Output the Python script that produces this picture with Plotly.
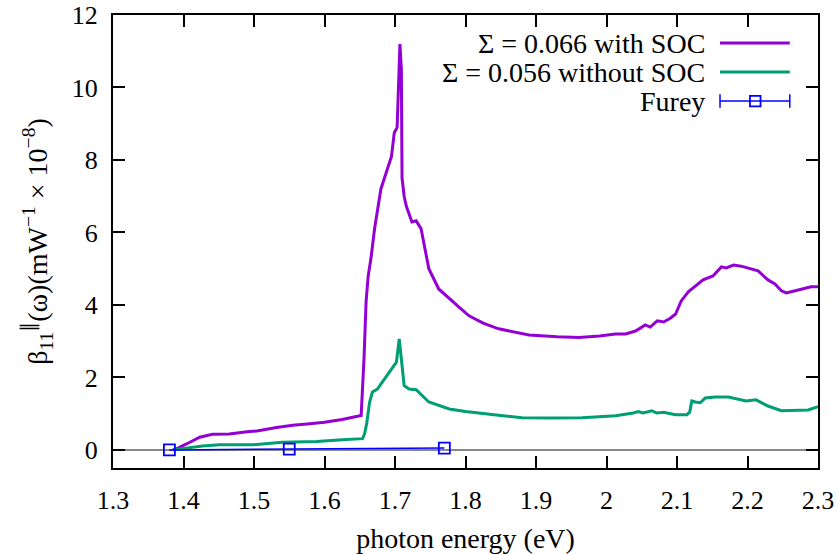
import plotly.graph_objects as go

# ---- data ----
soc_x = [1.385, 1.39, 1.405, 1.423, 1.441, 1.465, 1.49, 1.504, 1.532, 1.555, 1.579, 1.60, 1.625, 1.647,
         1.652, 1.656, 1.659, 1.662, 1.666, 1.671, 1.680, 1.695, 1.699, 1.703, 1.705, 1.707, 1.709,
         1.710, 1.713, 1.716, 1.724, 1.730, 1.737, 1.748, 1.762, 1.777, 1.790, 1.805, 1.825, 1.847,
         1.870, 1.890, 1.93, 1.961, 1.99, 2.013, 2.027, 2.041, 2.048, 2.055, 2.062, 2.072, 2.081,
         2.091, 2.098, 2.106, 2.116, 2.126, 2.137, 2.151, 2.163, 2.170, 2.180, 2.191, 2.215, 2.229,
         2.239, 2.248, 2.255, 2.272, 2.290, 2.30]
soc_y = [0.0, 0.03, 0.17, 0.35, 0.43, 0.44, 0.50, 0.52, 0.62, 0.68, 0.72, 0.76, 0.84, 0.93,
         0.95, 2.5, 4.1, 4.8, 5.3, 6.1, 7.2, 8.1, 8.75, 8.9, 10.0, 11.2, 10.5,
         7.5, 7.0, 6.73, 6.29, 6.32, 6.1, 5.0, 4.44, 4.17, 3.95, 3.70, 3.50, 3.34,
         3.24, 3.17, 3.12, 3.10, 3.14, 3.2, 3.2, 3.28, 3.36, 3.45, 3.39, 3.56, 3.53,
         3.64, 3.75, 4.11, 4.36, 4.53, 4.69, 4.80, 5.05, 5.02, 5.10, 5.07, 4.94, 4.69,
         4.58, 4.39, 4.33, 4.41, 4.50, 4.50]

nosoc_x = [1.385, 1.40, 1.427, 1.451, 1.498, 1.54, 1.589, 1.625, 1.654, 1.657, 1.660, 1.664, 1.668,
           1.675, 1.682, 1.696, 1.702, 1.706, 1.709, 1.713, 1.720, 1.730, 1.748, 1.762, 1.777, 1.80,
           1.823, 1.85, 1.88, 1.92, 1.965, 2.013, 2.038, 2.045, 2.052, 2.064, 2.071, 2.081, 2.098,
           2.114, 2.118, 2.121, 2.126, 2.133, 2.140, 2.154, 2.173, 2.198, 2.212, 2.229, 2.248, 2.272,
           2.286, 2.30]
nosoc_y = [0.0, 0.04, 0.11, 0.14, 0.14, 0.21, 0.23, 0.28, 0.31, 0.45, 0.75, 1.32, 1.60,
           1.68, 1.87, 2.23, 2.42, 3.06, 2.42, 1.77, 1.68, 1.66, 1.32, 1.22, 1.13, 1.06,
           1.00, 0.95, 0.89, 0.88, 0.89, 0.94, 1.02, 1.06, 1.02, 1.08, 1.02, 1.04, 0.97,
           0.97, 1.04, 1.35, 1.32, 1.30, 1.43, 1.46, 1.46, 1.35, 1.38, 1.21, 1.08, 1.10,
           1.10, 1.19]

furey_x = [1.38, 1.55, 1.77]
furey_y = [0.0, 0.02, 0.05]

x_ticks = [1.3, 1.4, 1.5, 1.6, 1.7, 1.8, 1.9, 2.0, 2.1, 2.2, 2.3]
x_tick_labels = ["1.3", "1.4", "1.5", "1.6", "1.7", "1.8", "1.9", "2", "2.1", "2.2", "2.3"]
y_ticks = [0, 2, 4, 6, 8, 10, 12]

legend_labels = ["Σ = 0.066 with SOC", "Σ = 0.056 without SOC", "Furey"]

PURPLE = "#9400d3"
GREEN = "#009e73"
BLUE = "#0000ff"
FONT = "Liberation Serif"
FS_TICK = 26
FS_TEXT = 28

fig = go.Figure()
fig.add_trace(go.Scatter(x=soc_x, y=soc_y, mode="lines", line=dict(color=PURPLE, width=3),
                         showlegend=False))
fig.add_trace(go.Scatter(x=nosoc_x, y=nosoc_y, mode="lines", line=dict(color=GREEN, width=3),
                         showlegend=False))
fig.add_trace(go.Scatter(x=furey_x, y=furey_y, mode="lines+markers",
                         line=dict(color=BLUE, width=1.5),
                         marker=dict(symbol="square-open", size=11, color=BLUE, line=dict(width=1.8)),
                         showlegend=False))

# custom gnuplot-style legend (text right, sample left)
rows = [0.938, 0.874, 0.810]
colors = [PURPLE, GREEN, BLUE]
x0, x1, xm, xt = 0.861, 0.960, 0.911, 0.842
shapes = []
annotations = []
for i, (lab, c, yr) in enumerate(zip(legend_labels, colors, rows)):
    annotations.append(dict(xref="paper", yref="paper", x=xt, y=yr, text=lab, showarrow=False,
                            xanchor="right", yanchor="middle",
                            font=dict(family=FONT, size=FS_TEXT, color="black")))
    shapes.append(dict(type="line", xref="paper", yref="paper", x0=x0, x1=x1, y0=yr, y1=yr,
                       line=dict(color=c, width=3 if i < 2 else 1.5)))
# Furey legend: caps and square
for xc in (x0, x1):
    shapes.append(dict(type="line", xref="paper", yref="paper", x0=xc, x1=xc,
                       y0=rows[2] - 0.015, y1=rows[2] + 0.015, line=dict(color=BLUE, width=1.5)))
shapes.append(dict(type="rect", xref="paper", yref="paper", x0=xm - 0.0075, x1=xm + 0.0075,
                   y0=rows[2] - 0.0115, y1=rows[2] + 0.0115, line=dict(color=BLUE, width=1.8),
                   fillcolor="rgba(0,0,0,0)"))

fig.update_layout(
    width=837, height=554,
    margin=dict(l=113, r=19, t=15, b=86, autoexpand=False),
    plot_bgcolor="white", paper_bgcolor="white",
    font=dict(family=FONT, size=FS_TICK, color="black"),
    shapes=shapes, annotations=annotations,
)
fig.update_xaxes(range=[1.3, 2.3], tickvals=x_ticks, ticktext=x_tick_labels,
                 tickfont=dict(family=FONT, size=FS_TICK),
                 ticks="inside", ticklen=12, tickwidth=1.5, tickcolor="black",
                 showline=True, linecolor="black", linewidth=2, mirror="ticks",
                 showgrid=False, zeroline=False, ticklabelstandoff=8, automargin=False,
                 title=dict(text="photon energy (eV)", standoff=14,
                            font=dict(family=FONT, size=FS_TEXT)))
fig.update_yaxes(range=[-0.5, 12], tickvals=y_ticks,
                 tickfont=dict(family=FONT, size=FS_TICK),
                 ticks="inside", ticklen=12, tickwidth=1.5, tickcolor="black",
                 showline=True, linecolor="black", linewidth=2, mirror="ticks",
                 showgrid=False, zeroline=True, zerolinecolor="#888888", zerolinewidth=1.5,
                 ticklabelstandoff=8, automargin=False,
                 title=dict(text="β<sub>11</sub><sup>∥</sup>(ω)(mW<sup>−1</sup> × 10<sup>−8</sup>)",
                            standoff=16, font=dict(family=FONT, size=FS_TEXT)))

fig.write_html("out.html", config={"displayModeBar": False})

# remove default page margin so the figure sits at the window origin, and force the serif face
with open("out.html", "r", encoding="utf-8") as f:
    html = f.read()
css = ("<style>html,body{margin:0;padding:0;}"
       "svg text{font-family:'Liberation Serif',serif !important;}</style>")
html = html.replace("<head>", "<head>" + css, 1)
with open("out.html", "w", encoding="utf-8") as f:
    f.write(html)
